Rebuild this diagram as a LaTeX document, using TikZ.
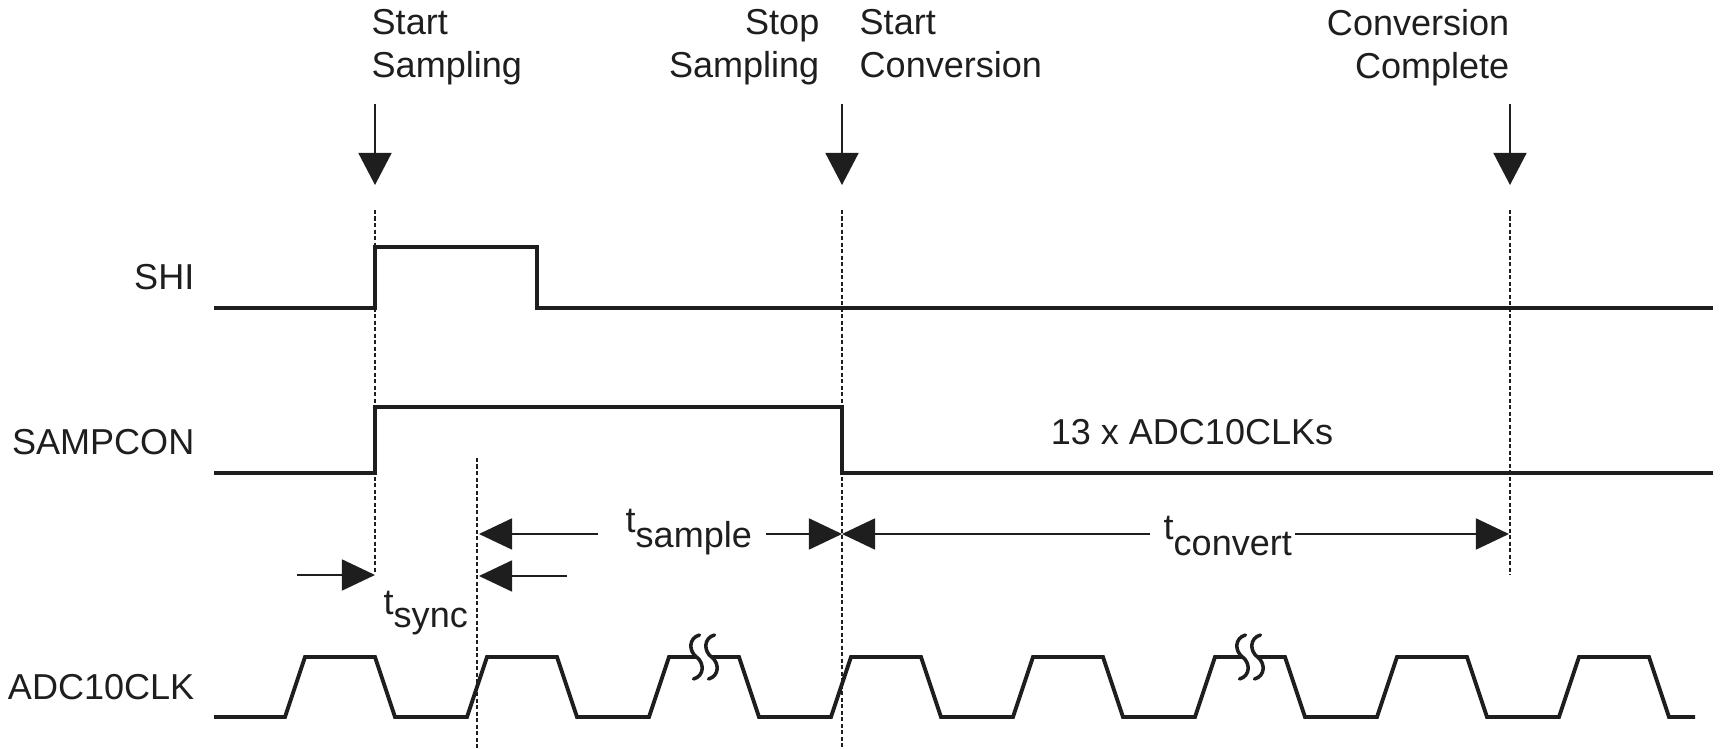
\documentclass[tikz,border=0pt]{standalone}
\usepackage{fontspec}
\setmainfont{Liberation Sans}
\usetikzlibrary{arrows.meta}
\definecolor{ink}{HTML}{1E1E1E}
\begin{document}
\begin{tikzpicture}[x=0.01cm,y=-0.01cm,
  every node/.style={font=\fontsize{10.25}{12}\selectfont, text=ink, inner sep=0pt},
  sig/.style={draw=ink, line width=1.1pt, line join=miter},
  guide/.style={draw=ink, line width=0.45pt, dash pattern=on 0.4mm off 0.25mm},
  evarrow/.style={draw=ink, line width=0.45pt, -{Triangle[length=3.2mm,width=3.3mm]}},
  dimarrow/.style={draw=ink, line width=0.45pt, -{Triangle[length=3.3mm,width=3.1mm]}},
  brk/.style={draw=ink, line width=1.0pt, line cap=round},
]
\useasboundingbox (0,0) rectangle (1720,749);

% event labels
\node[anchor=north west, align=left]  (lss) at (371,9)  {Start\\Sampling};
\node[anchor=north east, align=right] (lsp) at (820,9)  {Stop\\Sampling};
\node[anchor=north west, align=left]  (lsc) at (859,9)  {Start\\Conversion};
\node[anchor=north east, align=right] (lcc) at (1510,9) {Conversion\\Complete};

% event arrows
\coordinate (e1a) at (375,104);  \coordinate (e1b) at (375,185);
\coordinate (e2a) at (842,104);  \coordinate (e2b) at (842,185);
\coordinate (e3a) at (1510,104); \coordinate (e3b) at (1510,185);
\draw[evarrow] (e1a) -- (e1b);
\draw[evarrow] (e2a) -- (e2b);
\draw[evarrow] (e3a) -- (e3b);

% signal labels
\node[anchor=base east] (nshi) at (195,290) {SHI};
\node[anchor=base east] (nsam) at (195,455) {SAMPCON};
\node[anchor=base east] (nclk) at (195,700) {ADC10CLK};
\node[anchor=base] (n13) at (1192,445) {13 x ADC10CLKs};

% guides
\coordinate (g1a) at (375,210);  \coordinate (g1b) at (375,574);
\coordinate (g2a) at (842,210);  \coordinate (g2b) at (842,749);
\coordinate (g3a) at (1510,210); \coordinate (g3b) at (1510,575);
\coordinate (g4a) at (477,458);  \coordinate (g4b) at (477,749);
\draw[guide] (g1a) -- (g1b);
\draw[guide] (g2a) -- (g2b);
\draw[guide] (g3a) -- (g3b);
\draw[guide] (g4a) -- (g4b);

% SHI
\draw[sig] (214,308) -- (375,308) -- (375,247) -- (537,247) -- (537,308) -- (1713,308);
% SAMPCON
\draw[sig] (214,473) -- (375,473) -- (375,407) -- (842,407) -- (842,473) -- (1713,473);
% ADC10CLK
\draw[sig] (214,717) -- (285,717) -- (305,657) -- (375,657) -- (395,717) -- (467,717)
  -- (487,657) -- (557,657) -- (577,717) -- (649,717) -- (669,657) -- (739,657)
  -- (759,717) -- (831,717) -- (851,657) -- (921,657) -- (941,717) -- (1013,717)
  -- (1033,657) -- (1103,657) -- (1123,717) -- (1195,717) -- (1215,657) -- (1285,657)
  -- (1305,717) -- (1377,717) -- (1397,657) -- (1467,657) -- (1487,717) -- (1559,717)
  -- (1579,657) -- (1649,657) -- (1669,717) -- (1695,717);

% breaks
\foreach \c in {704,1250}{
  \draw[white, line width=1.6pt] (\c-7,657) -- (\c+7,657);
  \foreach \d in {-7.5,7.5}{
    \draw[brk] (\c+\d+3,635) .. controls (\c+\d-8,638) and (\c+\d-8,651) .. (\c+\d,657)
      .. controls (\c+\d+8,663) and (\c+\d+8,676) .. (\c+\d-3,679);
  }
}

% timing labels
\node[anchor=base west] (tsam) at (625,533) {t\raisebox{-0.39em}{sample}};
\node[anchor=base west] (tcon) at (1163,540) {t\raisebox{-0.42em}{convert}};
\node[anchor=base west] (tsyn) at (383,615) {t\raisebox{-0.36em}{sync}};

% dimension arrows
\coordinate (s1) at (479,534);  \coordinate (s1t) at (598,534);
\coordinate (s2) at (842,534);  \coordinate (s2t) at (766,534);
\coordinate (c1) at (842,534);  \coordinate (c1t) at (1150,534);
\coordinate (c2) at (1509,534); \coordinate (c2t) at (1295,534);
\draw[dimarrow] (s1t) -- (s1);
\draw[dimarrow] (s2t) -- (s2);
\draw[dimarrow] (c1t) -- (c1);
\draw[dimarrow] (c2t) -- (c2);
\coordinate (y1) at (375,575); \coordinate (y1t) at (297,575);
\coordinate (y2) at (479,576); \coordinate (y2t) at (567,576);
\draw[dimarrow] (y1t) -- (y1);
\draw[dimarrow] (y2t) -- (y2);
\end{tikzpicture}
\end{document}
